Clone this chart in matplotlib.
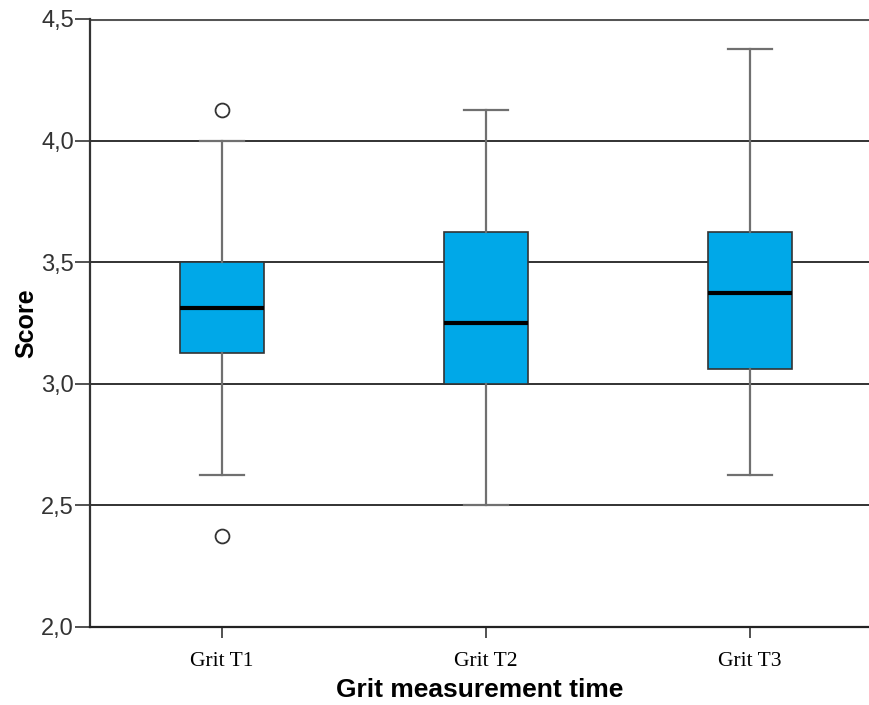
import matplotlib.pyplot as plt
from matplotlib.ticker import FuncFormatter

# five-number summaries per measurement time
labels = ["Grit T1", "Grit T2", "Grit T3"]
whisker_low = [2.625, 2.5, 2.625]
q1 = [3.125, 3.0, 3.0625]
medians = [3.3125, 3.25, 3.375]
q3 = [3.5, 3.625, 3.625]
whisker_high = [4.0, 4.125, 4.375]
outliers = [[4.125, 2.375], [], []]

stats = []
for i in range(len(labels)):
    stats.append(dict(label=labels[i], whislo=whisker_low[i], q1=q1[i], med=medians[i],
                      q3=q3[i], whishi=whisker_high[i], fliers=outliers[i]))

fig = plt.figure(figsize=(8.7, 7.05), dpi=100)
ax = fig.add_axes([90 / 870, 1 - 627 / 705, 1 - 90 / 870, (627 - 19) / 705])

# horizontal reference lines behind the boxes
for y in [2.5, 3.0, 3.5, 4.0]:
    ax.axhline(y, color="#222222", lw=1.3, zorder=0)
ax.axhline(4.5, color="#555555", lw=2.2, zorder=0)

ax.bxp(stats, positions=[1, 2, 3], widths=0.318, patch_artist=True,
       boxprops=dict(facecolor="#00A8E8", edgecolor="#333333", lw=1.2),
       medianprops=dict(color="black", lw=3),
       whiskerprops=dict(color="#707070", lw=1.6),
       capprops=dict(color="#707070", lw=1.6),
       capwidths=0.167,
       flierprops=dict(marker="o", markersize=10, markerfacecolor="white",
                       markeredgecolor="#333333", markeredgewidth=1.3))

ax.set_xlim(0.5, 3.4545)
ax.set_ylim(2.0, 4.5)
ax.set_yticks([2.0, 2.5, 3.0, 3.5, 4.0, 4.5])
ax.yaxis.set_major_formatter(FuncFormatter(lambda v, p: f"{v:.1f}".replace(".", ",")))

for side in ["top", "right"]:
    ax.spines[side].set_visible(False)
ax.spines["left"].set_color("#333333")
ax.spines["left"].set_linewidth(1.6)
ax.spines["bottom"].set_color("#222222")
ax.spines["bottom"].set_linewidth(1.6)

ax.tick_params(axis="y", length=10.5, width=1.2, color="#333333", labelsize=17,
               labelcolor="#333333", pad=1)
ax.tick_params(axis="x", length=8, width=1.2, color="#333333", pad=10)
for t in ax.get_yticklabels():
    t.set_fontfamily("Liberation Sans")
for t in ax.get_xticklabels():
    t.set_fontfamily("Liberation Serif")
    t.set_fontsize(15.5)

ax.set_xlabel("Grit measurement time", fontsize=19, fontweight="bold",
              fontfamily="Liberation Sans", labelpad=5)
ax.set_ylabel("Score", fontsize=18, fontweight="bold",
              fontfamily="Liberation Sans", labelpad=2)

fig.savefig("out.png", dpi=100)
